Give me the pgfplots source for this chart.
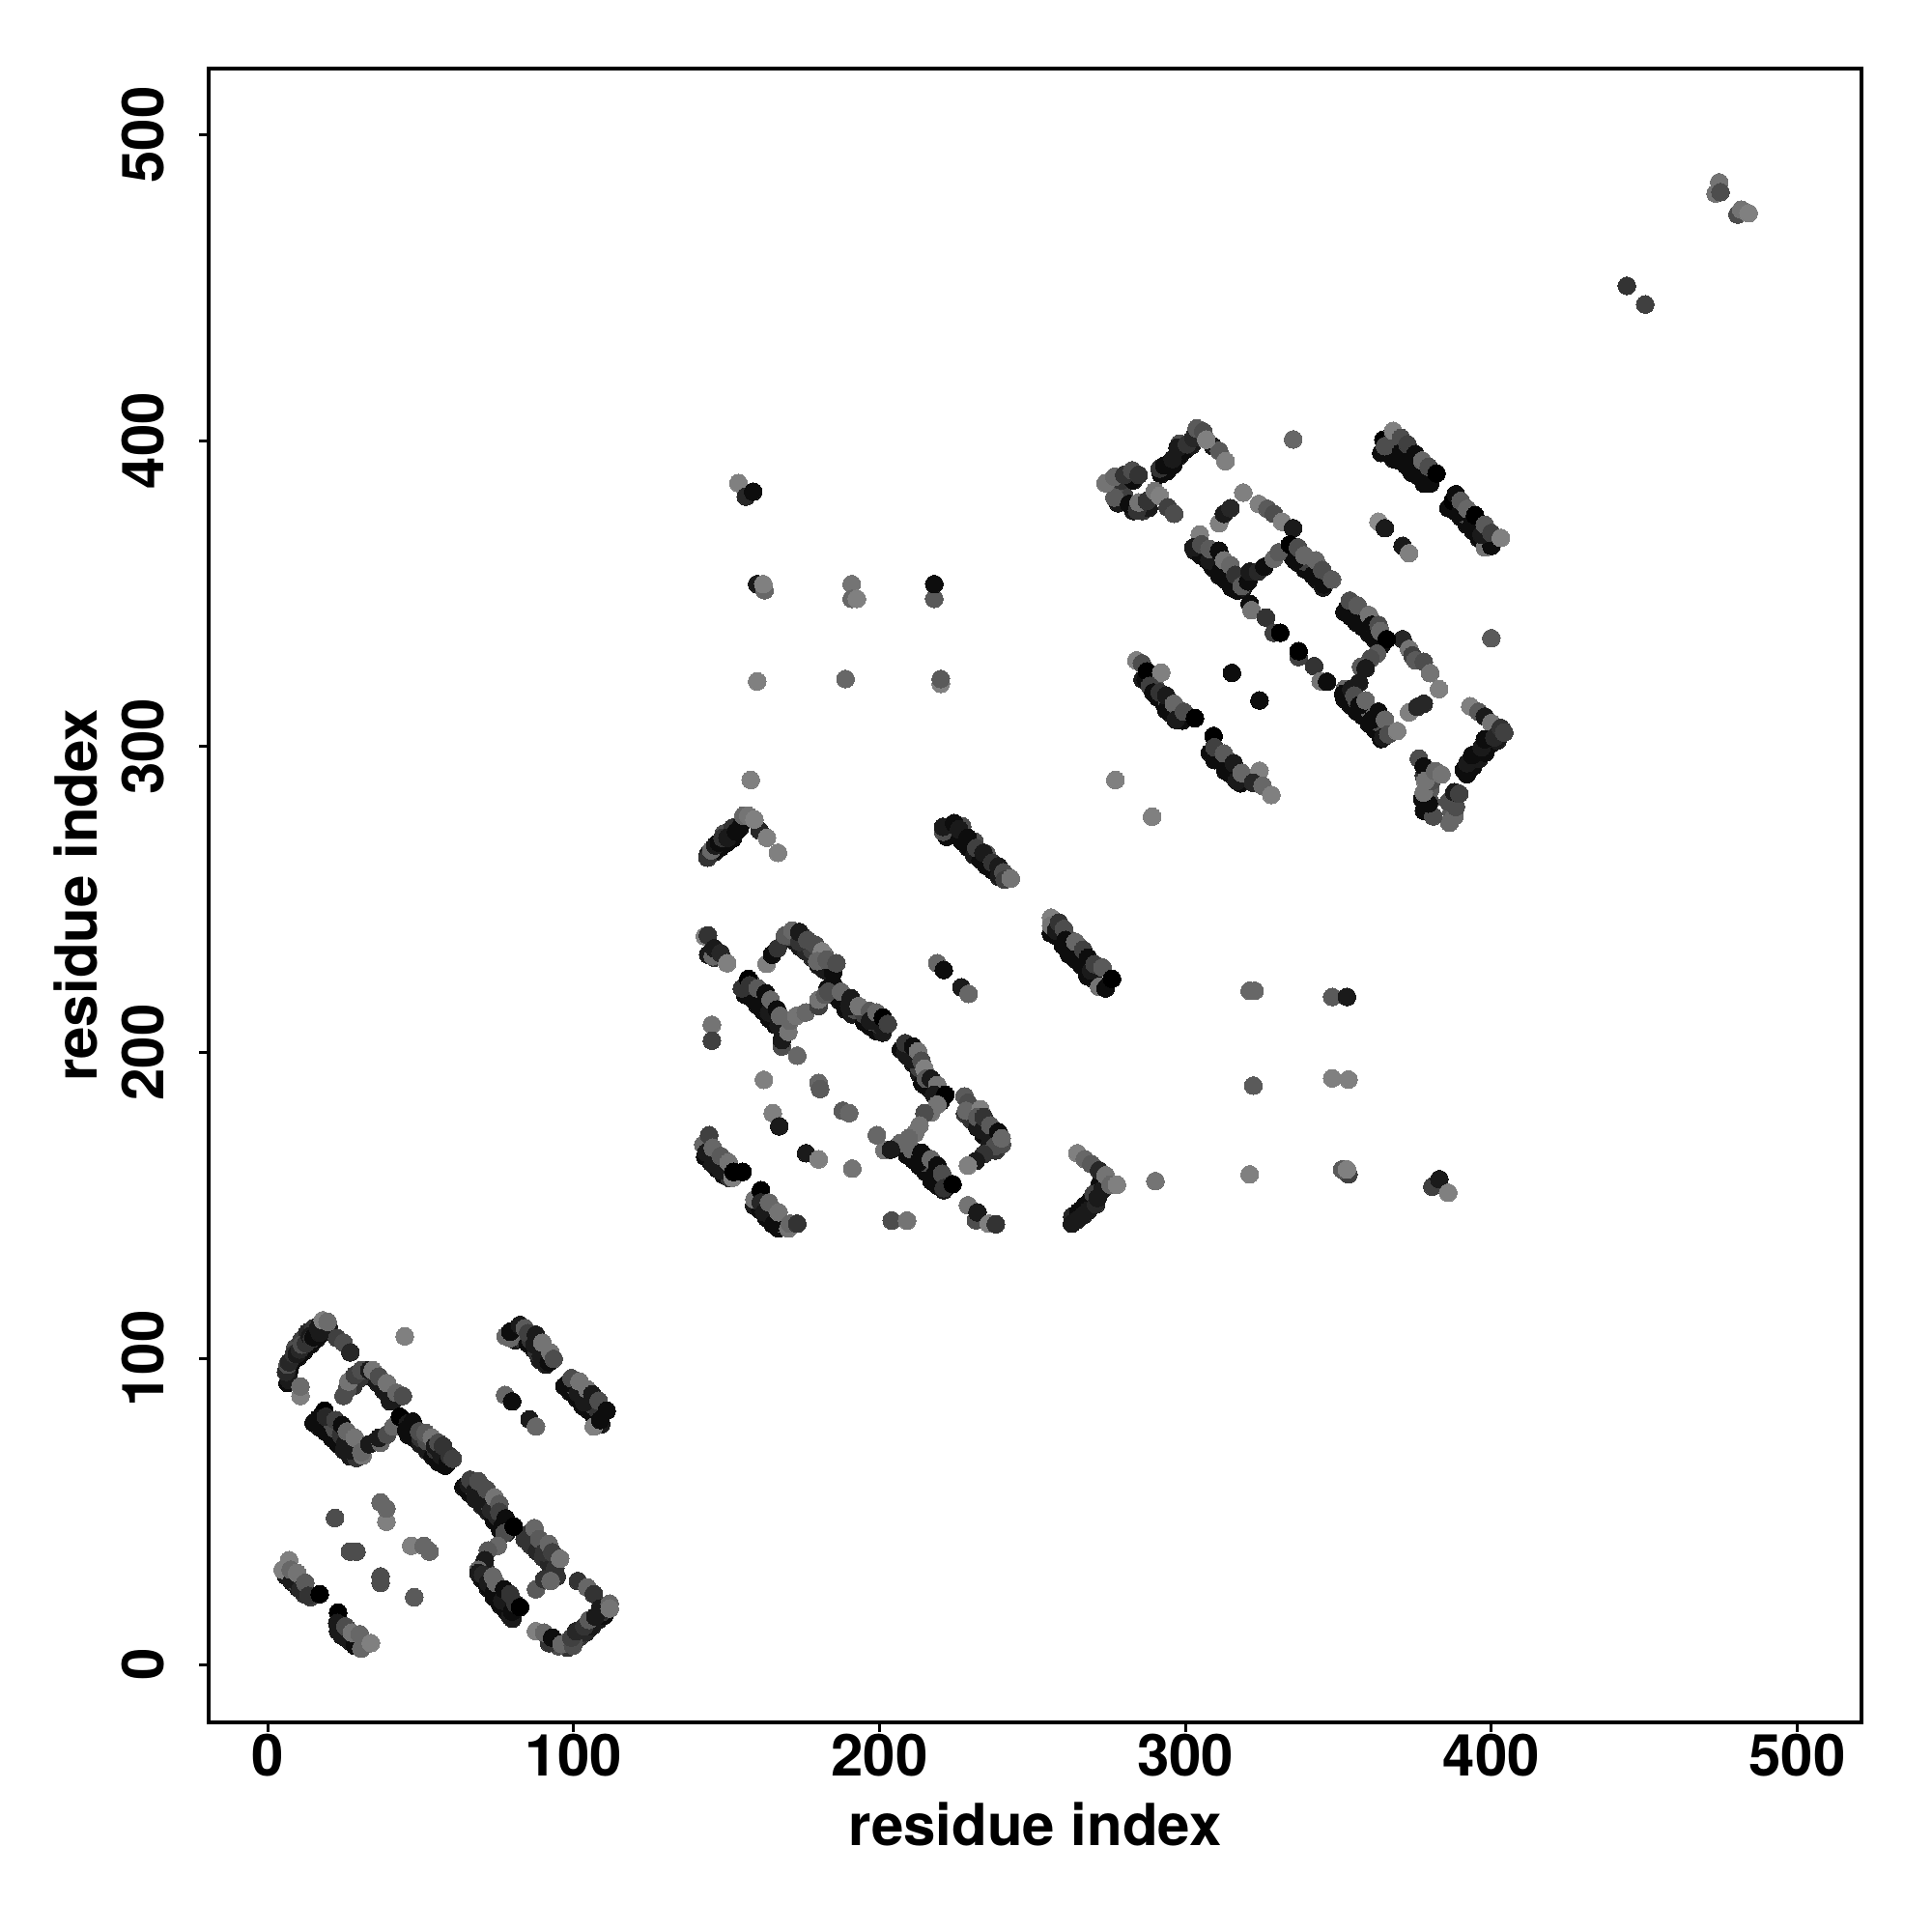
\documentclass[border=0pt]{standalone}
\usepackage{fontspec}
\setmainfont{TeX Gyre Heros}
\usepackage{pgfplots}
\usepackage{pgfplotstable}
\pgfplotsset{compat=1.18}
% x y g, g = grey level of the point, in drawing order
\pgfplotstableread{
x y g
6.5 92 .05
7 96 .05
8 99 .05
10 100.5 .05
12 102.5 .05
14 104.5 .05
16 106.5 .05
18 108.5 .05
20 110 .1
9 103.5 .3
11 106 .25
13 108.5 .15
15 110 .2
17 111 .1
36 92 .1
38 89.5 .1
40 86 .1
34 94 .1
30 93.5 .2
28 91 .2
26 90 .3
15 79 .05
17 77.5 .05
19 76 .05
21 74 .05
23 72 .05
25 70 .1
27 68 .1
29 67.5 .2
20 80 .3
22 77 .3
24 75 .2
26 73 .3
44 78.5 .05
46 75 .05
48 74 .05
50 72 .1
52 70 .1
54 68 .05
56 66 .05
58 65 .05
47 77.5 .25
50 74 .2
52 73 .3
55 70 .2
57 69 .3
64 58 .05
66 56 .05
68 54 .1
70 52 .1
72 50 .1
74 47 .05
76 44 .05
78 43 .1
67 58 .3
70 56 .25
72 53 .3
74 51 .3
84 41 .2
86 39 .2
88 37 .15
90 35 .2
92 33 .15
93 31 .15
70 28 .05
72 25 .05
74 22 .05
76 19.5 .05
78 17.5 .05
80 15 .1
75 24 .3
77 22 .2
79 20 .3
71 32 .2
102 9 .2
104 10.5 .15
106 12.5 .1
108 14.5 .1
110 16 .05
98 5.5 .2
100 7 .3
109 17 .2
110 18 .15
95 6 .3
92 7 .2
6 29 .1
8 27 .1
10 25 .1
12 23 .2
14 22 .25
9 27 .3
23 11 .1
25 9 .1
27 7.5 .1
29 6 .1
26 10.5 .3
81 106 .1
83 106.5 .2
85 105 .05
87 103 .05
89 99.5 .1
91 98 .1
82 109 .3
86 106 .2
88 102 .2
97 91 .05
99 89 .05
101 87 .05
103 84.5 .05
105 83 .05
107 80 .05
109 78.5 .1
100 91 .3
103 88 .2
106 85 .25
108 83 .2
144 232 .1
146 231 .2
156 219 .05
158 218 .05
160 215.5 .05
162 213.5 .05
164 211 .05
166 209 .05
168 207.5 .1
169 206 .1
158 223 .3
161 219 .3
164 215 .3
168 211 .35
172 236.5 .1
174 234.5 .1
176 233 .15
178 231 .15
180 228.5 .1
182 227 .1
170 238 .3
175 238 .3
178 233.5 .25
182 232 .35
183 221 .05
185 219 .05
187 217 .05
189 214 .05
191 212.5 .1
195 210 .05
197 208.5 .05
199 207 .05
201 206.5 .1
192 214 .3
195 212.5 .25
198 210 .3
200 209 .2
207 201 .05
209 199 .05
211 196.5 .05
213 193 .1
214 190 .05
216 188.5 .05
218 186 .05
220 184 .05
212 198 .3
213 195 .25
228 180 .2
230 178 .2
232 175.5 .1
234 173 .05
236 170 .1
238 168 .2
240 170 .3
209 166.5 .05
211 165 .05
213 163 .05
215 161 .05
217 158 .05
219 156.5 .05
221 155 .1
215 164 .3
219 160 .3
143 166 .05
145 164 .05
147 162 .05
149 160 .05
151 159 .2
146 167 .3
149 165 .35
159 150 .1
161 148.5 .05
163 146 .05
165 144 .05
167 142.5 .05
168 144 .35
164 149 .3
167 146 .35
256 239 .05
258 238 .05
260 235 .05
262 232 .05
264 230.5 .05
266 228.5 .05
268 225 .05
270 224 .05
272 221.5 .05
262 237 .3
265 235 .35
263 146.5 .15
265 148 .05
267 150 .05
269 152 .05
271 154.5 .1
272 157 .05
270 153.8 .25
144 265 .1
146 265.5 .05
148 267 .05
150 268.5 .05
152 270 .05
149 271.5 .3
152 273.5 .2
155 275 .1
222 270.5 .05
225 271 .05
227 269 .05
229 267 .05
231 264.5 .1
233 263 .05
235 261 .05
237 259.5 .05
239 257.5 .1
227 274 .3
231 269 .3
235 265 .35
292 389 .05
294 390 .05
296 392 .05
298 395 .05
300 397 .05
302 398.5 .1
298 399 .3
278 379.5 .1
280 382 .25
283 377 .1
286 377 .2
288 378 .1
277 385 .3
279 387 .2
283 387 .05
364 396 .05
366 396 .05
368 394 .05
370 393.5 .05
372 392 .05
374 389.5 .05
376 388.5 .05
378 386 .05
380 386 .05
369 399 .3
373 397 .25
377 391.5 .3
386 378 .05
388 377 .05
390 375 .05
392 372.5 .05
394 370.5 .05
396 368 .05
398 366 .05
392 375.5 .3
395 373 .25
303 364 .1
305 362.5 .05
307 361 .05
309 358.5 .05
311 356 .05
313 354.5 .05
315 352 .05
317 351 .05
319 352 .1
309 363 .3
312 359 .35
316 355 .3
333 364 .05
335 362 .05
337 360 .05
339 358 .05
341 357 .05
343 354.5 .05
345 352 .1
339 360.5 .25
343 358 .3
352 344 .05
354 342.5 .05
356 340.5 .05
358 339 .05
360 337 .05
362 335 .05
364 333 .05
358 343 .35
362 338 .3
352 315.5 .05
354 313.5 .05
356 311.5 .05
358 310 .05
360 307.5 .05
362 305.5 .05
364 302.5 .05
356 315 .3
360 312 .4
363 308 .3
286 322 .1
287 322 .05
289 320 .05
291 316 .05
293 314 .05
295 311 .05
297 309 .05
299 308.5 .05
290 320 .3
294 315 .3
298 312 .3
308 298 .05
310 297 .05
312 295 .05
314 291.5 .05
316 290 .05
318 288 .05
313 295 .3
316 291 .35
392 291 .05
394 293.5 .05
396 296 .1
398 298 .05
400 301 .05
402 302 .1
378 279 .05
380 282 .3
379 285 .1
380 286 .35
388 282.5 .2
387 278.5 .35
386 282 .3
378 290.5 .2
7 93 .1
6 95.7 .15
6.5 98 .3
7 98.8 .15
8.6 101.5 .2
9.5 101.5 .1
10.5 103 .15
11.2 104.6 .3
12.5 105 .2
13.8 107.3 .1
14.5 106.5 .2
15 107 .05
16.5 109.9 .1
17 108.5 .1
22.7 106.7 .25
24.8 105.2 .3
27 102 .15
10.7 87.8 .5
10.7 90.9 .42
18 112.5 .5
19.6 112 .42
44.8 107.3 .5
24.8 87.8 .3
26.4 92.5 .45
28.5 94.6 .25
30.6 96.2 .3
33.2 96.2 .1
37.9 90.4 .1
40 87.8 .1
41 86.2 .1
34.3 96.2 .45
36.4 94.1 .3
39 92 .45
42.1 88.8 .4
44.2 87.8 .3
18.5 83 0
16.5 80.4 .05
19 81 .15
22.2 79.9 .25
24.3 78.3 .05
25.4 72.5 .1
27.5 69.9 .1
25.9 76.2 .4
28.5 74.1 .45
31 68.3 .45
30.6 69.4 .4
33.2 72 .1
36.9 72.5 .4
36.4 74.1 .1
39 75.2 .3
41.1 77.8 .4
43.2 81 0
45.8 78.8 .1
47.4 79.4 .05
45.3 76.7 .05
49.5 76.2 .3
51.6 75.7 .35
53.7 74.1 .45
54.7 71.5 .1
55.8 72.5 .3
56.8 68.3 .1
57.3 71.5 .2
58.9 66.2 .05
59.4 68.3 .2
60.5 67.3 .25
65.7 58.8 .1
66.2 60.4 .25
67.8 56.7 .1
68.9 59.9 .3
69.9 54.1 .1
71.5 57.3 .3
73.1 50.4 .15
74.1 54.6 .45
75.7 52.5 .35
75.2 48.3 .15
75.7 49.9 .25
76.7 45.1 .05
77.8 47.8 .05
87.7 24.6 .35
85.6 43 .2
87.2 44.6 .4
88.8 41 .35
90.4 36.7 .2
91.9 39.4 .4
93 36.7 .25
94 31.5 .2
94.5 28.8 .2
90.4 27.8 .2
92.5 27.3 .4
95.6 34.6 .45
77.4 43 .3
75.2 38.8 .4
72 37.3 .35
71 34.1 .1
80.4 45.1 0
68.9 31 .4
68.9 29.9 .1
70.4 29.4 .15
72 26.7 .1
73.6 28.8 .4
74.1 24.1 .05
74.6 26.7 .4
76.7 20.9 .1
77.3 24.6 .05
79.3 15.7 .1
79.9 17.3 .05
79.3 23 .2
81 19.9 .2
82.5 18.8 0
87.7 10.9 .5
90.4 10.4 .4
93 8.8 .05
96.1 6.7 .4
97.7 7.3 .4
99.8 6.2 .3
99.3 8.8 .25
100.8 10.9 .15
103.5 12.5 .2
105 14.6 .35
107.1 15.7 .1
101.4 27.3 .2
104.5 25.2 .4
106.6 23 .2
108.7 18.3 .1
111.8 19.9 .4
111.8 18.3 .45
7 34.1 .5
4.9 31 .5
8.1 27.8 .1
7.5 31 .4
9.6 29.9 .45
10.7 24.6 .15
12.3 26.7 .35
13.3 22.5 .2
17 23 0
23 17 0
22.7 13.6 .1
24.3 9.4 .1
25.4 12.5 .3
28.5 6.2 .05
27.5 10.4 .45
30.6 5.2 .4
30.1 9.9 .4
33.7 7 .5
22 47.9 .3
36.9 53 .4
38.8 46.7 .5
38.8 51 .4
26.9 36.9 .3
29 36.9 .3
36.9 26.7 .3
36.9 28.8 .3
46.9 38.8 .5
51 38.8 .4
52.9 36.9 .4
47.9 22 .35
77.8 107.3 .4
79.3 106.7 .4
79.3 108.8 .05
82.5 111 .1
84.1 109.9 .35
85.1 108.3 .25
87.2 104.6 .1
87.7 107.8 .1
89.3 100.9 .1
89.8 105.2 .45
91.9 98.8 .05
92.4 102 .45
93.5 99.9 .3
106.6 77.8 .5
108.7 79.9 .05
98.2 92 .05
99.3 93.6 .3
101.4 88.8 .1
101.9 92.5 .45
103.5 85.7 .1
104.5 89.9 .45
106.1 88.3 .1
108.2 86.2 .3
110.8 83 .05
77.6 88.1 .4
79.9 86 .05
85.6 80.1 .1
87.7 77.8 .4
142.9 238 .5
145.5 231.5 .4
143.9 238.3 .2
146 234.1 .1
148.1 232.5 .15
150.2 229.2 .5
163.1 229 .5
164.9 232 .05
166.7 234.1 .2
169.1 238.3 .35
171.5 239.9 .4
173.8 236.2 .2
173.8 239.4 .1
176.4 236.8 .3
179.1 235.2 .3
181.2 233.1 .5
179.6 229.9 .4
184.8 226.2 .05
182.7 230.4 .35
185.9 229.2 .3
155 221 .2
157.1 224.1 0
157.6 222 .2
160.2 217.3 .05
160.2 221 .35
162.8 219.4 .05
163.9 213.1 .1
164.4 217.3 .4
166.5 214.1 .05
168.1 202 .3
168.1 204.1 .1
167 208.9 .1
170.2 206.8 .45
167.5 212 .4
170.7 210.4 .4
172.8 212 .45
175.9 213.1 .4
180.1 215.2 .25
180.1 217.3 .45
182.2 218.9 .35
184.8 222.5 .05
183.3 219.9 .3
187.4 219.9 .4
190.1 215.2 .1
190.6 217.8 .1
193.2 215.2 .45
196.9 213.6 .35
196.9 210.4 .1
199 213.1 .4
201.1 208.4 .1
201.1 211.5 0
202.7 209.4 .25
208.4 199.9 .1
208.4 203.1 .2
210.5 197.8 .1
211 202 .05
212.6 200.4 .45
213.7 197.3 .3
214.7 194.7 .5
214.7 189.4 .05
215.2 191.5 .35
216.8 191.5 .1
218.9 189.4 .45
217.8 186.2 .1
221.5 186.2 0
227.8 185.7 .35
228.9 183.6 .3
228.3 181 .4
233 181.5 .5
232 178.9 .35
233.6 174.6 .1
234.1 178.9 .2
236.2 176.2 .35
238.8 174.1 .05
237.7 169.4 .3
239.9 172 .4
234.1 166.8 .2
231.5 164.6 .1
228.9 163.1 .5
218.9 183 .45
216.8 180.4 .45
214.7 180.2 .3
213.1 176.2 .45
211.6 173.6 .45
209.5 172 .4
210.5 168.3 .4
206.8 170.4 .4
201.6 168.1 .45
203.7 168.3 .1
212.6 164.1 .05
213.7 167.3 .05
216.8 165.2 .4
217.8 159.9 .05
218.9 163.1 .05
220.5 160.4 .3
221 155.7 .2
223.9 157 0
145.5 163.6 .1
142.4 169.9 .4
143.4 167.3 .1
144.3 173 .25
145.5 168.9 .4
148.1 161.5 .1
148.1 166.2 .35
150.7 164.1 .45
152 159.1 .5
152.3 161 0
155.2 161 0
159.1 152 .45
161.2 155 0
161.2 151 .15
162.3 147.8 .1
163.9 151 .4
165.4 144.1 .05
167 147.8 .45
170.2 142.5 .45
170.7 144.1 .4
173.1 144.1 .2
218.9 229.2 .4
221 227 .05
226.8 221.3 .1
229.1 219.2 .4
145.2 209.1 .45
145.2 203.9 .25
173.1 199 .4
162.2 191.1 .5
180.1 190.1 .4
180.6 188.1 .35
188 181 .35
190.1 180.2 .4
165.1 180.2 .5
167.2 175.9 .1
199.1 173 .4
176 167.1 .1
180.1 165.1 .5
191.1 162.1 .45
204 145.1 .3
209 145.1 .45
228.9 150.1 .45
231.5 145.2 .3
232 147.8 .1
235.7 144.1 .5
238 143.9 .2
256.1 244.1 .5
256.1 241.5 .45
257.7 239.9 .1
258.7 242.5 .2
260.3 240.4 .3
260.8 236.8 .05
262.9 233.1 .05
264 236.2 .4
266.6 233.6 .25
268.2 231 .05
269.2 226.8 .1
270.3 228.9 .25
272.9 227.8 .35
271.8 221.5 .45
273.9 221 .05
276 224.1 0
264.7 167.1 .5
267.1 165.2 .4
269.2 163.6 .35
271.8 161.5 .15
262.9 144.1 .1
264.5 145.2 .1
266.6 146.8 .1
268.2 148.3 .1
270.8 150.4 .15
271.3 152.5 .1
272.9 155.2 .1
273.9 159.9 .45
275.5 156.8 .4
277.6 156.8 .5
290.2 158 .45
143.8 263.7 .2
145 266.1 .4
146.3 267.7 .1
147.5 268.6 .05
148.7 270.2 .2
150.3 270.2 .1
153.1 272.2 .05
154.3 273.4 .05
160.8 272.6 .15
155.5 277.4 .4
157.1 277.4 .45
159.1 276.2 .5
163.2 270.2 .5
166.8 265.3 .5
220.8 272.2 .3
220.8 273.8 .1
224.4 275 .05
226 273 .1
228.8 270.2 .05
231.6 266.9 .25
234 265.3 .1
236.9 262.1 .2
238.9 260.9 .1
240.5 258.9 .3
240.9 256.5 .25
242.9 256.9 .45
157.9 289.1 .5
160 321.3 .5
188.9 322.1 .4
220 320.5 .5
220 322.1 .35
160 353.1 .1
162.4 351.1 .4
162 353.1 .5
190.9 353.1 .45
190.9 348.3 .4
192.6 348.3 .5
217.9 348.3 .35
217.9 353.1 .05
153.9 386.1 .5
156.3 381.7 .15
158.7 383.3 .05
321 220.2 .4
322.6 220.2 .4
348 218.2 .35
352.8 218.2 .1
322.2 189.2 .35
348 191.6 .5
353.3 191.2 .5
321 160.2 .5
353.3 160.2 .25
351.2 161.8 .35
352.8 161.8 .5
380.7 156.2 .25
383 158.6 .1
385.9 154.2 .5
400 335.4 .35
276.8 381.4 .35
273.9 386.1 .45
276.8 388.2 .4
280 388.8 .2
282.6 390.3 .3
284.7 388.8 .2
281.6 379.3 .05
284.2 377.2 .2
284.7 379.8 .45
287.4 380.3 .2
290 383.5 .45
291.6 381.9 .5
294.2 378.2 .25
296.3 376.1 .3
291.6 390.9 .2
293.1 391.9 .05
295.8 394 .1
297.4 397.7 .1
300.5 398.8 .2
302.6 400.9 .15
303.7 404 .35
305.8 403 .3
309 398.2 .1
311 396.7 .35
313.1 393.3 .5
306.8 400.3 .5
335.2 400.4 .4
364.7 400.3 0
365.2 398.2 .3
367.9 403.2 .5
370.5 400.9 .3
370.5 396.1 .05
372.6 398.8 .25
375.2 395.6 .05
375.8 390.9 .05
377.4 393.5 .4
379.5 387.7 .05
379.5 391.4 .3
382.1 389.3 0
387.4 380.3 0
388.4 382.5 .05
390 376.7 .05
390 380.3 .35
392.1 377.7 .4
393.7 373 .05
394.7 375.6 0
397.9 365.1 .45
400 365.6 .05
396.8 369.3 .1
397.9 372.5 .35
400 369.8 .25
403.1 368.2 .5
363.1 373.5 .55
365.2 371.4 .1
371 365.6 .1
373.1 363.2 .5
311 373 .5
312.6 376.1 .1
314.7 377.9 .15
318.9 383 .5
324 379.3 .5
326.8 377.7 .35
328.9 376.1 .3
331.6 373.5 .5
335.2 371.4 .1
304.7 369.3 .5
302.6 365.1 .1
305.2 366.1 .3
307.9 360.9 .1
307.9 364.6 .35
311 364 .05
311.6 357.7 .05
312.6 360.9 .45
314.7 353.5 .05
314.7 359.3 .4
316.3 356.1 .2
318.4 352.5 .35
320.5 354 .05
321 357.2 .1
323.7 357.2 .15
325.8 358.8 .05
328.9 361.4 .4
330.5 363.5 .35
334.2 366.1 0
335.8 360.9 .05
336.8 365.1 .3
338.9 362.5 .4
341.6 356.1 .05
342.6 360.9 .4
345.2 353 .05
344.7 357.7 .3
347.9 354.6 .35
321 346.7 .05
321.6 344.6 .45
326.3 342.2 .2
328.9 337.2 .25
331 337.2 0
337 329.3 .25
337 331.2 0
342.1 326.3 .2
344.2 321.4 .45
346.3 321.2 .05
315.2 324.1 .05
324.2 315.1 .05
353.1 345.6 .05
353.7 347.7 .3
356.8 343 .05
356.3 346.1 .35
360 343 .45
361.6 336.1 .05
361 339.8 .05
363.1 339.8 .3
363.7 337.7 .4
371 335.1 .15
373.1 331.9 .45
374.2 329.8 .25
375.2 328.2 .35
377.9 327.7 .3
380 324 .45
365.8 335.1 0
362.6 330.4 .35
360.5 328.8 .3
357.4 326.1 .35
358.9 325.6 .1
356.8 320.9 .1
352.1 318.8 .4
351.6 317.2 .05
354.2 318.8 .1
355.2 316.7 .3
356.8 313.5 .05
358.9 315.1 .4
361 308.8 .05
363.1 311.4 .05
364.7 303 .1
365.2 308.8 .4
366.3 304 .3
369.2 305.1 .5
373.1 311.2 .5
375.8 313 .15
377.9 314 .15
382.9 318.8 .5
393.1 313.2 .5
395.8 311.4 .35
397.9 309.8 .1
400 307.7 .45
391 292.4 .05
392.1 294.6 .1
393.7 297.2 .05
396.8 299.8 .1
397.9 302.4 .05
401 303 .15
403.1 306.1 .2
404.2 304.6 .25
386.3 275.1 .4
387.9 277.2 .4
388.4 280.3 .3
381 277.2 .3
377.4 282.9 .05
379.5 281.4 .05
377.9 285 .45
376.3 296.1 .3
377.9 293.5 .05
380.5 288.8 .3
378.4 288.8 .45
381.6 292 .4
383.7 290.9 .45
387.9 285.1 .1
389.5 284.6 .25
284 328.2 .5
285.8 327.2 .3
287.4 324.6 0
292.1 324.2 .5
288.4 319.8 .25
289.5 317.7 .05
291.6 317.7 .2
293.7 312 .05
293.7 316.7 .1
296.3 314 .4
296.8 308.8 .1
299.5 311.4 .3
303.1 309.3 0
309.2 303.5 0
309.5 295.6 .05
309.5 299.8 .25
312.6 297.7 .35
313.1 292 .05
315.8 294.6 .1
316.8 288.8 .1
318.4 291.4 .4
324.2 292.1 .5
322.1 288.2 .15
325.2 287.2 .4
328.1 284.2 .5
277.1 289.1 .5
289.1 277.1 .5
444.3 450.6 .2
450.3 444.5 .25
474.5 484.4 .45
473.3 480.8 .45
474.9 481.2 .3
480.5 473.9 .3
481.7 475.5 .45
484.1 474.3 .5
}\contacts
\begin{document}
\begin{tikzpicture}
\useasboundingbox (0,0) rectangle (500pt,500pt);
\begin{axis}[
  at={(54pt,54.25pt)}, anchor=south west,
  scale only axis,
  width=427.75pt, height=428pt,
  xmin=-19.3, xmax=521,
  ymin=-18.9, ymax=521.6,
  xtick={0,100,200,300,400,500},
  ytick={0,100,200,300,400,500},
  tick pos=left, tick align=outside,
  major tick length=2.4pt,
  axis line style={line width=0.85pt},
  tick style={black, line width=0.8pt},
  /pgf/number format/assume math mode=true,
  every tick label/.append style={font=\fontsize{15}{15}\selectfont\bfseries, inner sep=0pt, outer sep=0pt},
  xticklabel style={anchor=base, yshift=-11.6pt},
  yticklabel style={anchor=base, rotate=90, yshift=9.25pt},
  xlabel={residue index},
  ylabel={residue index},
  every axis label/.append style={font=\fontsize{15}{15}\selectfont\bfseries, inner sep=0pt, outer sep=0pt},
  xlabel style={at={(axis description cs:0.5,0)}, anchor=base, yshift=-32pt},
  ylabel style={at={(axis description cs:0,0.5)}, anchor=base, yshift=29pt},
  colormap={shades}{gray(0cm)=(0); gray(1cm)=(1)},
  point meta min=0, point meta max=1,
]
\addplot[scatter, only marks, mark=*, mark size=2.3pt,
  scatter src=explicit,
  scatter/use mapped color={draw=mapped color, fill=mapped color, line width=0pt}]
  table[x=x, y=y, meta=g] {\contacts};
\end{axis}
\end{tikzpicture}
\end{document}
